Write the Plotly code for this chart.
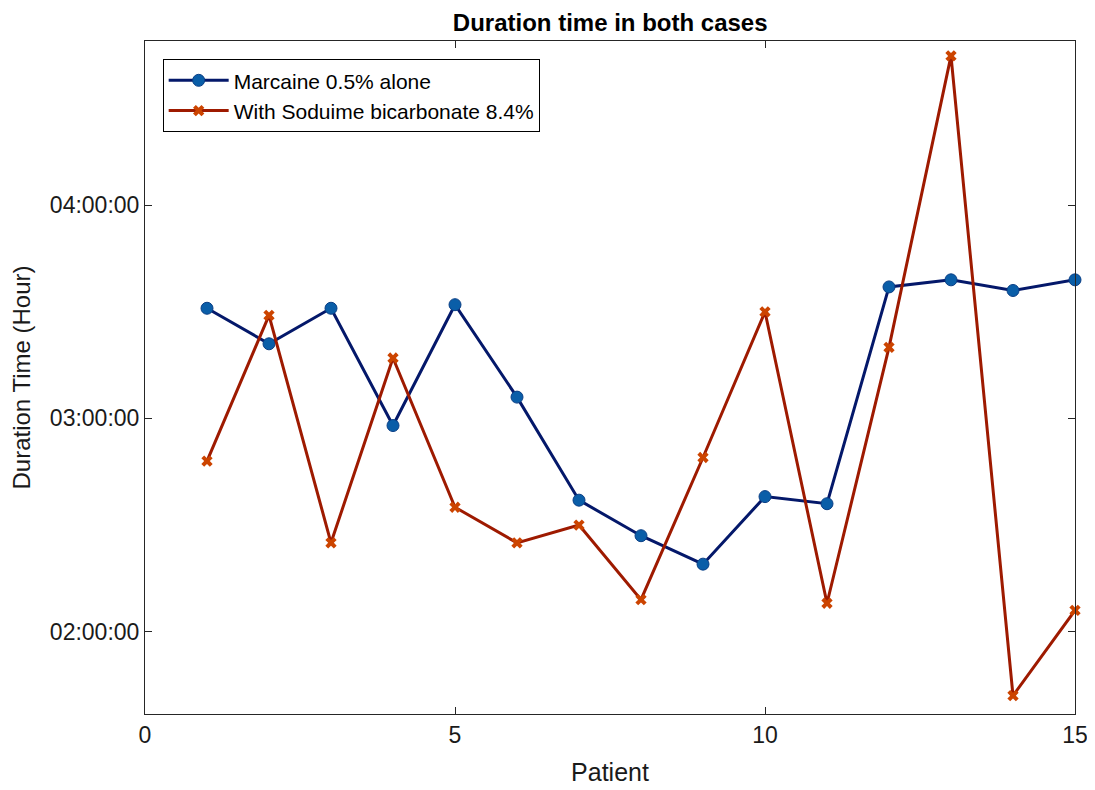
import plotly.graph_objects as go

patients = list(range(1, 16))
marcaine = ["03:31:00", "03:21:00", "03:31:00", "02:58:00", "03:32:00",
            "03:06:00", "02:37:00", "02:27:00", "02:19:00", "02:38:00",
            "02:36:00", "03:37:00", "03:39:00", "03:36:00", "03:39:00"]
bicarb = ["02:48:00", "03:29:00", "02:25:00", "03:17:00", "02:35:00",
          "02:25:00", "02:30:00", "02:09:00", "02:49:00", "03:30:00",
          "02:08:00", "03:20:00", "04:42:00", "01:42:00", "02:06:00"]
y_ticks = ["02:00:00", "03:00:00", "04:00:00"]
x_ticks = [0, 5, 10, 15]
names = ["Marcaine 0.5% alone", "With Soduime bicarbonate 8.4%"]

BASE = "2000-01-01 "
def t(v):
    return BASE + v

fig = go.Figure()
fig.add_trace(go.Scatter(
    x=patients, y=[t(v) for v in marcaine], mode="lines+markers", name=names[0],
    line=dict(color="#04186a", width=3),
    marker=dict(symbol="circle", size=12, color="#0a5ea8",
                line=dict(color="#0a3f86", width=1)),
    cliponaxis=False,
))
fig.add_trace(go.Scatter(
    x=patients, y=[t(v) for v in bicarb], mode="lines+markers", name=names[1],
    line=dict(color="#9e1a00", width=3),
    marker=dict(symbol="x", size=10, color="#cc4400", line=dict(width=0)),
    cliponaxis=False,
))

FONT = "Liberation Sans, Arial"
axis_common = dict(
    showline=True, linecolor="#262626", linewidth=1, mirror="ticks",
    ticks="inside", ticklen=7, tickcolor="#262626", tickwidth=1,
    showgrid=False, zeroline=False,
    tickfont=dict(family=FONT, size=23, color="#1a1a1a"),
)

# page body has an 8px margin, so the figure is sized to fit the 1095x790 window
fig.update_layout(
    width=1087, height=782,
    margin=dict(l=137, r=20, t=33, b=76, autoexpand=False),
    paper_bgcolor="white", plot_bgcolor="white",
    title=dict(text="<b>Duration time in both cases</b>", x=0.554, xanchor="center",
               y=0.981, yanchor="middle",
               font=dict(family=FONT, size=24, color="#000000")),
    xaxis=dict(range=[0, 15], tickvals=x_ticks, ticktext=[str(v) for v in x_ticks],
               automargin=True,
               title=dict(text="Patient", standoff=16,
                          font=dict(family=FONT, size=25, color="#1a1a1a")),
               **axis_common),
    yaxis=dict(type="date", range=[t("01:36:50"), t("04:46:12")],
               tickvals=[t(v) for v in y_ticks], ticktext=y_ticks,
               automargin=False,
               title=dict(text="Duration Time (Hour)",
                          font=dict(family=FONT, size=24, color="#1a1a1a")),
               **axis_common),
    legend=dict(x=0.019, y=0.973, xanchor="left", yanchor="top",
                bordercolor="#000000", borderwidth=1, bgcolor="white",
                font=dict(family=FONT, size=21, color="#000000"),
                itemwidth=60, tracegroupgap=0),
    showlegend=True,
)

fig.write_html("out.html")
